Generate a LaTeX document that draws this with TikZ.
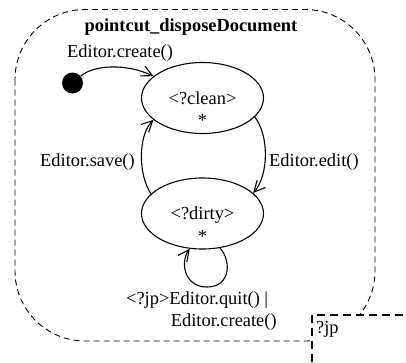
\documentclass[tikz,border=0pt]{standalone}
\usepackage{fontspec}
\setmainfont{Liberation Serif}
\usetikzlibrary{arrows.meta,shapes.geometric}
\begin{document}
\begin{tikzpicture}[x=1pt,y=-1pt,
  txt/.style={font=\fontsize{18.4}{22}\selectfont, inner sep=0pt},
  lbl/.style={txt, anchor=base west},
  statename/.style={txt, anchor=base},
  state/.style={draw, ellipse, line width=1.1pt, inner sep=0pt,
    minimum width=122pt, minimum height=71pt},
  initial/.style={circle, fill=black, inner sep=0pt, minimum size=21pt},
  trans/.style={line width=1.1pt,
    -{Straight Barb[length=11pt,width=11pt,line width=1.1pt]}},
  region/.style={dash pattern=on 6pt off 4pt, line width=0.9pt},
  jpbox/.style={dash pattern=on 8pt off 5pt, line width=2pt}]
\useasboundingbox (0,0) rectangle (406,362);

% enclosing pointcut region
\draw[region, rounded corners=70pt] (15,9.5) rectangle (375,341);

% join point box in the lower right corner
\fill[white] (311.5,315) rectangle (406,362);
\draw[jpbox] (311.5,362) -- (311.5,315) -- (406,315);
\node[lbl] (jp) at (316,333.5) {?jp};

% title
\node[lbl, font=\fontsize{18.4}{22}\selectfont\bfseries] (title) at (84.5,31.5)
  {pointcut\_disposeDocument};

% states
\node[initial] (init) at (72.5,83) {};
\node[state] (clean) at (202.5,98) {};
\node[statename] (cleanname) at (202.5,104) {<?clean>};
\node[statename] (cleanstar) at (202.5,126.5) {*};
\node[state] (dirty) at (202.5,213.5) {};
\node[statename] (dirtyname) at (202.5,219.5) {<?dirty>};
\node[statename] (dirtystar) at (202.5,242) {*};

% transitions
\draw[trans] (init) .. controls (95,64) and (128,64) .. (clean.156);
\draw[trans] (clean.-20) .. controls (269,135) and (269,175) .. (dirty.22);
\draw[trans] (dirty.159) .. controls (138,175) and (138,135) .. (clean.204);
\coordinate (loopbottom) at (207,287);
\draw[trans] (dirty.-63) .. controls (232,262) and (230,287) .. (loopbottom)
  .. controls (184,287) and (180,262) .. (dirty.-110);

% transition labels
\node[lbl] (createlbl) at (67,57.5) {Editor.create()};
\node[lbl] (savelbl) at (40,166) {Editor.save()};
\node[lbl] (editlbl) at (269,166) {Editor.edit()};
\node[lbl] (quitlbl) at (126,304) {<?jp>Editor.quit() |};
\node[lbl] (createlbl2) at (170.7,326.7) {Editor.create()};
\end{tikzpicture}
\end{document}
